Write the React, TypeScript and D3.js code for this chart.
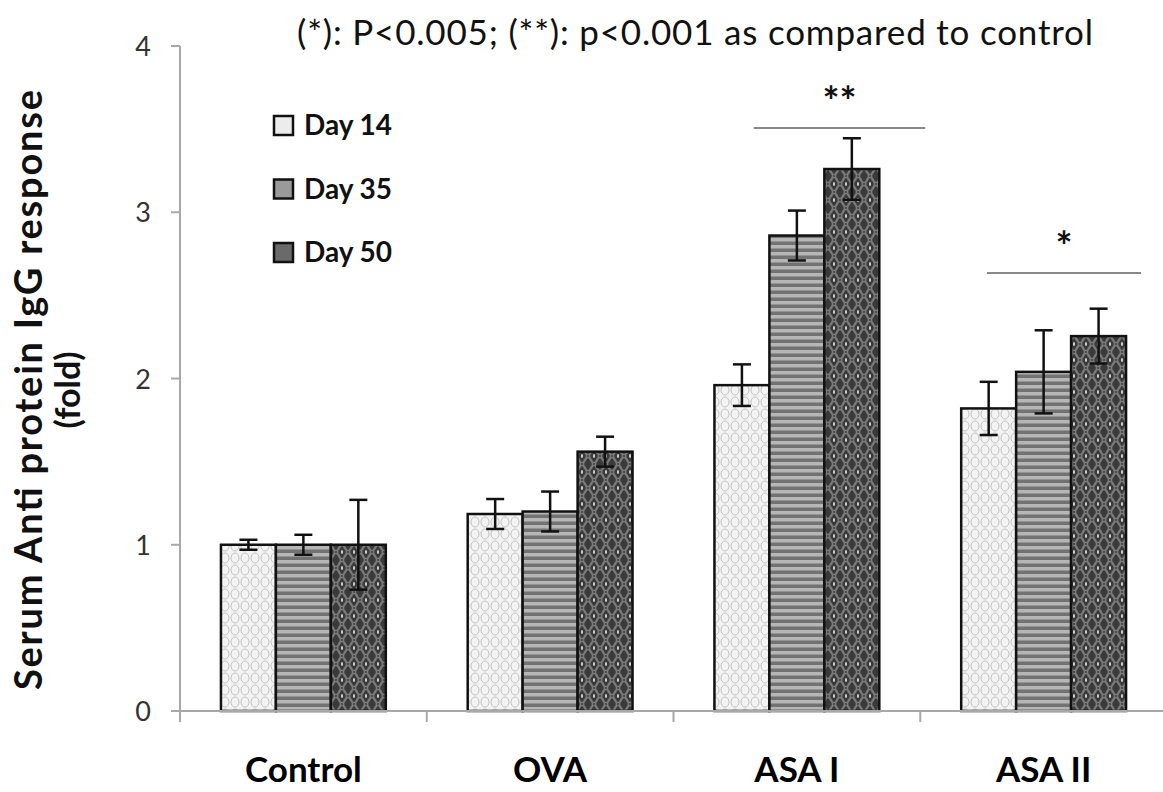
import React from "react";
import * as d3 from "d3";

const categories = ["Control", "OVA", "ASA I", "ASA II"];
const seriesNames = ["Day 14", "Day 35", "Day 50"];
const day14 = [1.0, 1.185, 1.96, 1.82];
const day35 = [1.0, 1.2, 2.86, 2.04];
const day50 = [1.0, 1.56, 3.26, 2.255];
const err14 = [0.03, 0.09, 0.125, 0.16];
const err35 = [0.06, 0.12, 0.15, 0.25];
const err50 = [0.27, 0.09, 0.185, 0.165];
const yTicks = [0, 1, 2, 3, 4];
const sigCategories = ["ASA I", "ASA II"];
const sigLabels = ["**", "*"];
const sigLevels = [3.507, 2.635];
const note = "(*): P<0.005; (**): p<0.001 as compared to control";
const yTitle1 = "Serum Anti protein IgG response";
const yTitle2 = "(fold)";

const W = 1163;
const H = 792;
const left = 180;
const right = 1167;
const top = 46;
const bottom = 711;
// significance line extents, as fractions of the category band (layout)
const sigSpan = [
  [0.325, 1.02],
  [0.27, 0.895],
];

export default function App() {
  const x = d3.scaleBand<string>().domain(categories).range([left, right]).paddingInner(0).paddingOuter(0);
  const inner = d3
    .scaleBand<string>()
    .domain(seriesNames)
    .range([0, x.bandwidth()])
    .paddingOuter(0.745)
    .paddingInner(0);
  const y = d3.scaleLinear().domain([0, 4]).range([bottom, top]);
  const values = [day14, day35, day50];
  const errs = [err14, err35, err50];
  const fills = ["url(#p14)", "url(#p35)", "url(#p50)"];
  const legendFills = ["#ececec", "#9a9a9a", "#6a6a6a"];
  const font = "Lato, 'Open Sans', sans-serif";
  const boundaries = [...categories.map((c) => x(c)!), right];

  return (
    <svg width={W} height={H} style={{ position: "absolute", left: 0, top: 0, background: "#fff" }}>
      <defs>
        <pattern id="p14" patternUnits="userSpaceOnUse" width="10" height="12">
          <rect width="10" height="12" fill="#f3f3f3" />
          <ellipse cx="5" cy="6" rx="4" ry="5" fill="none" stroke="#c2c2c2" strokeWidth="1" />
        </pattern>
        <pattern id="p35" patternUnits="userSpaceOnUse" width="8" height="7">
          <rect width="8" height="7" fill="#b6b6b6" />
          <rect y="3.5" width="8" height="3.5" fill="#727272" />
        </pattern>
        <pattern id="p50" patternUnits="userSpaceOnUse" width="12" height="16">
          <rect width="12" height="16" fill="#3a3a3a" />
          <ellipse cx="6" cy="8" rx="4.5" ry="6.5" fill="none" stroke="#7a7a7a" strokeWidth="1.6" />
          <ellipse cx="0" cy="0" rx="4.5" ry="6.5" fill="none" stroke="#7a7a7a" strokeWidth="1.6" />
          <ellipse cx="12" cy="0" rx="4.5" ry="6.5" fill="none" stroke="#7a7a7a" strokeWidth="1.6" />
          <ellipse cx="0" cy="16" rx="4.5" ry="6.5" fill="none" stroke="#7a7a7a" strokeWidth="1.6" />
          <ellipse cx="12" cy="16" rx="4.5" ry="6.5" fill="none" stroke="#7a7a7a" strokeWidth="1.6" />
          <ellipse cx="6" cy="8" rx="1" ry="2" fill="#d8d8d8" />
        </pattern>
      </defs>

      {/* note */}
      <text x={695} y={45} textAnchor="middle" fontFamily={font} fontSize={35} fill="#111" textLength={796} lengthAdjust="spacing">
        {note}
      </text>

      {/* y axis */}
      <line x1={left} x2={left} y1={top} y2={bottom} stroke="#a8a8a8" strokeWidth={2} />
      {yTicks.map((t) => (
        <g key={t}>
          <line x1={left - 9} x2={left} y1={y(t)} y2={y(t)} stroke="#a8a8a8" strokeWidth={2} />
          <text x={151} y={y(t) + 10} textAnchor="end" fontFamily={font} fontSize={27} fill="#333">
            {t}
          </text>
        </g>
      ))}

      {/* bars */}
      {categories.map((c, ci) =>
        seriesNames.map((s, si) => {
          const bx = x(c)! + inner(s)!;
          const bw = inner.bandwidth();
          const v = values[si][ci];
          const e = errs[si][ci];
          const cx = bx + bw / 2;
          return (
            <g key={c + s}>
              <rect x={bx} y={y(v)} width={bw} height={y(0) - y(v)} fill={fills[si]} stroke="#111" strokeWidth={2.5} />
              <line x1={cx} x2={cx} y1={y(v + e)} y2={y(v - e)} stroke="#111" strokeWidth={2.5} />
              <line x1={cx - 9} x2={cx + 9} y1={y(v + e)} y2={y(v + e)} stroke="#111" strokeWidth={2.5} />
              <line x1={cx - 9} x2={cx + 9} y1={y(v - e)} y2={y(v - e)} stroke="#111" strokeWidth={2.5} />
            </g>
          );
        })
      )}

      {/* x axis */}
      <line x1={left - 9} x2={W} y1={bottom} y2={bottom} stroke="#a8a8a8" strokeWidth={2} />
      {boundaries.map((b, i) => (
        <line key={i} x1={b} x2={b} y1={bottom} y2={bottom + 11} stroke="#a8a8a8" strokeWidth={2} />
      ))}
      {categories.map((c) => (
        <text key={c} x={x(c)! + x.bandwidth() / 2} y={782} textAnchor="middle" fontFamily={font} fontWeight="bold" fontSize={35} fill="#000">
          {c}
        </text>
      ))}

      {/* significance */}
      {sigCategories.map((c, i) => {
        const x0 = x(c)! + x.bandwidth() * sigSpan[i][0];
        const x1 = x(c)! + x.bandwidth() * sigSpan[i][1];
        return (
          <g key={c}>
            <line x1={x0} x2={x1} y1={y(sigLevels[i])} y2={y(sigLevels[i])} stroke="#888" strokeWidth={2} />
            <text x={(x0 + x1) / 2} y={y(sigLevels[i]) - 12} textAnchor="middle" fontFamily={font} fontWeight="bold" fontSize={40} fill="#111">
              {sigLabels[i]}
            </text>
          </g>
        );
      })}

      {/* legend */}
      {seriesNames.map((s, i) => (
        <g key={s} transform={`translate(274, ${116 + i * 63.5})`}>
          <rect x={0} y={0} width={19} height={19} fill={legendFills[i]} stroke="#111" strokeWidth={2.5} />
          <text x={30} y={19} fontFamily={font} fontWeight="bold" fontSize={28} fill="#111">
            {s}
          </text>
        </g>
      ))}

      {/* y title */}
      <text transform={`translate(42, 390) rotate(-90)`} textAnchor="middle" fontFamily={font} fontWeight="bold" fontSize={38} fill="#111" textLength={600} lengthAdjust="spacing">
        {yTitle1}
      </text>
      <text transform={`translate(80, 390) rotate(-90)`} textAnchor="middle" fontFamily={font} fontWeight="bold" fontSize={34} fill="#111">
        {yTitle2}
      </text>
    </svg>
  );
}
